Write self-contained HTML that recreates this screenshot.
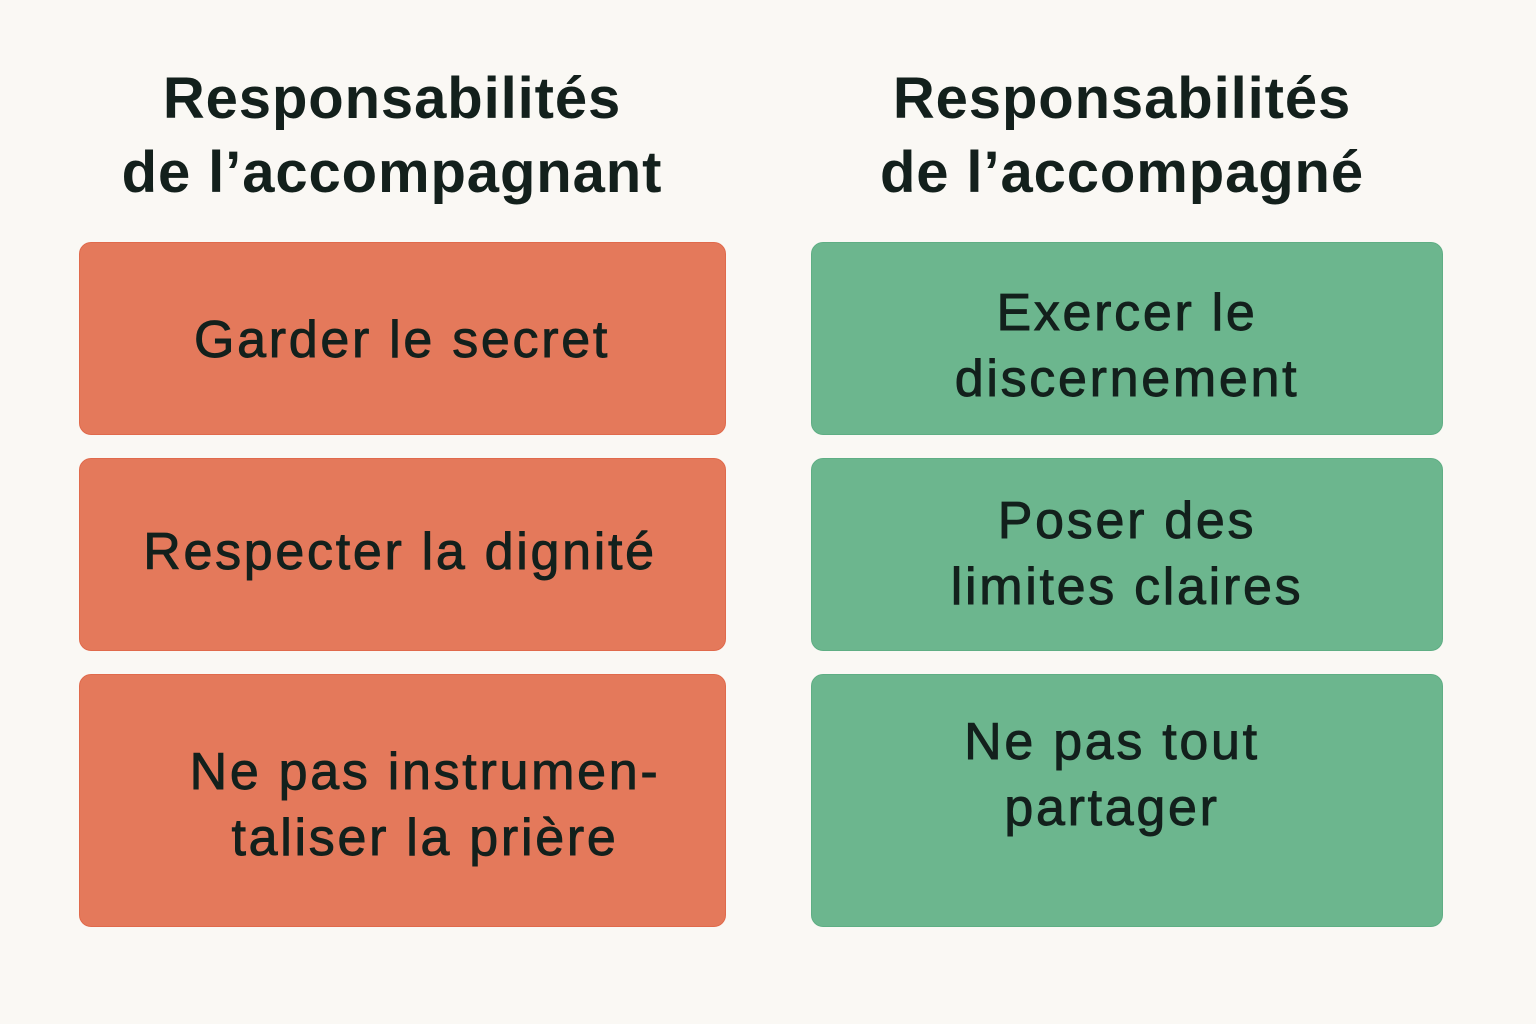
<!DOCTYPE html>
<html><head><meta charset="utf-8"><style>
html,body{margin:0;padding:0}
body{width:1536px;height:1024px;background:#faf8f4;position:relative;overflow:hidden;font-family:"Liberation Sans","DejaVu Sans",sans-serif;color:#13201c}
.h{position:absolute;font-size:58px;font-weight:bold;text-align:center;line-height:74px;letter-spacing:0.9px}
.b{position:absolute;border-radius:12px}
.o{background:#e4795b;border:1px solid #e06a4c;left:79px;width:645px}
.g{background:#6cb68e;border:1px solid #5fae84;left:811px;width:630px}
.t{position:absolute;font-size:52px;line-height:66px;text-align:center;white-space:nowrap;-webkit-text-stroke:0.9px #13201c;transform:translateX(-50%);letter-spacing:2.7px}
</style></head><body>
<div class="h" style="left:92px;width:600px;top:62px">Responsabilités<br>de l’accompagnant</div>
<div class="h" style="left:822px;width:600px;top:62px">Responsabilités<br>de l’accompagné</div>

<div class="b o" style="top:242px;height:191px"></div>
<div class="b o" style="top:458px;height:191px"></div>
<div class="b o" style="top:674px;height:251px"></div>
<div class="b g" style="top:242px;height:191px"></div>
<div class="b g" style="top:458px;height:191px"></div>
<div class="b g" style="top:674px;height:251px"></div>

<div class="t" style="left:402px;top:307px">Garder le secret</div>
<div class="t" style="left:400px;top:519px">Respecter la dignité</div>
<div class="t" style="left:425px;top:739px">Ne pas instrumen-<br>taliser la prière</div>

<div class="t" style="left:1127px;top:280px">Exercer le<br>discernement</div>
<div class="t" style="left:1127px;top:488px">Poser des<br>limites claires</div>
<div class="t" style="left:1112px;top:709px">Ne pas tout<br>partager</div>
</body></html>
